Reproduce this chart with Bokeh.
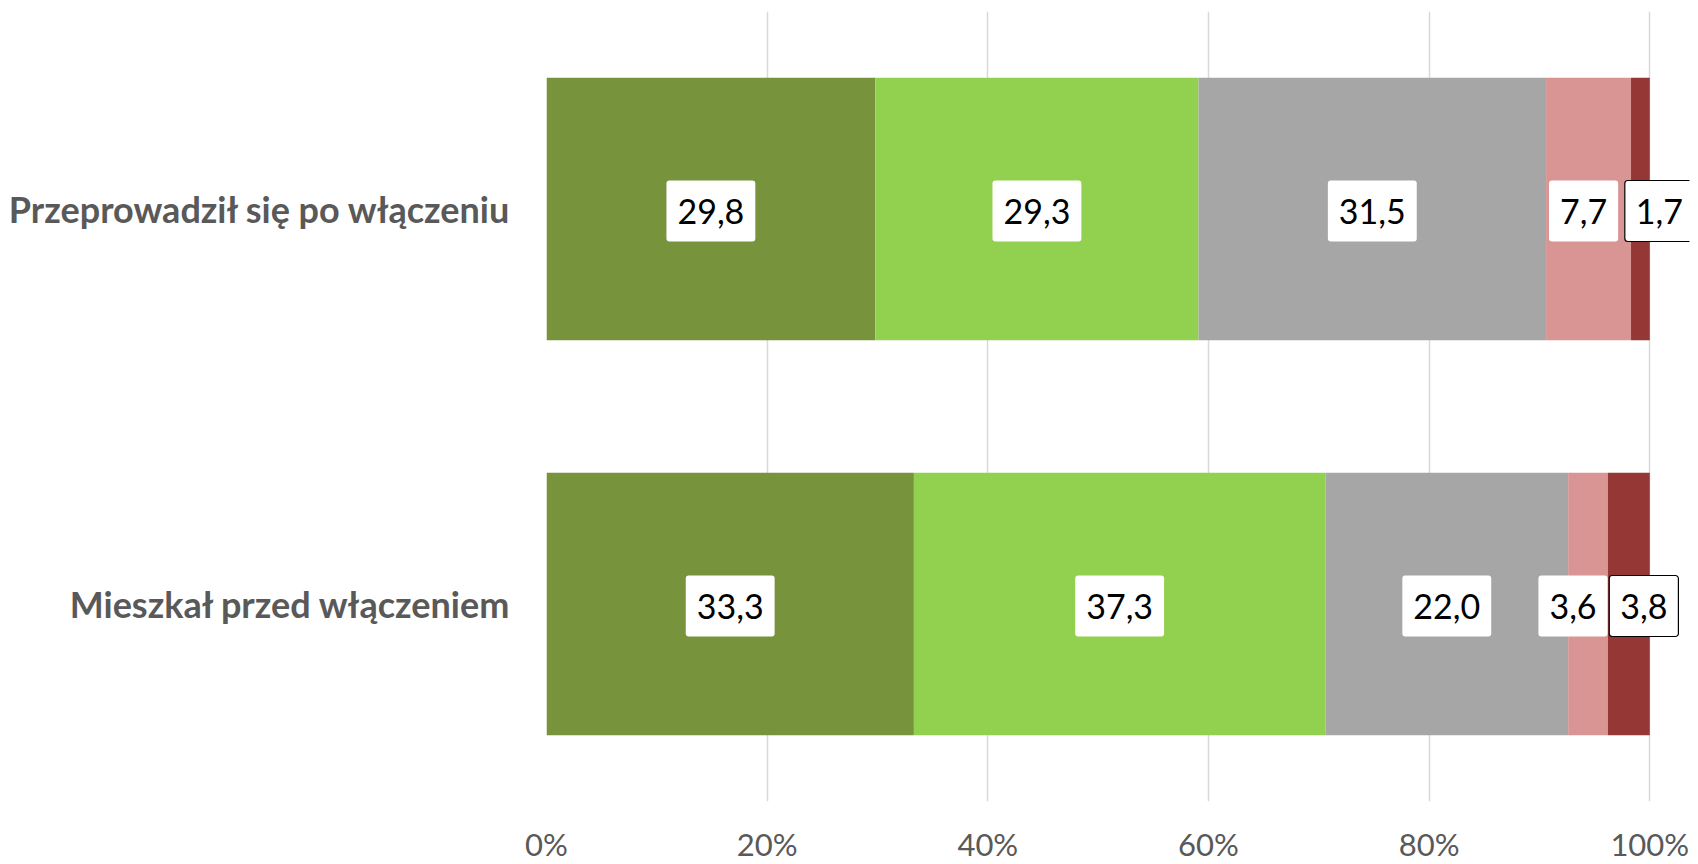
from bokeh.plotting import figure
from bokeh.models import ColumnDataSource, FactorRange, Range1d, Label, FixedTicker, CustomJSTickFormatter
from bokeh.embed import file_html
from bokeh.resources import INLINE

categories = ["Mieszkał przed włączeniem", "Przeprowadził się po włączeniu"]
series = ["s1", "s2", "s3", "s4", "s5"]
values = {
    "s1": [33.3, 29.8],
    "s2": [37.3, 29.3],
    "s3": [22.0, 31.5],
    "s4": [3.6, 7.7],
    "s5": [3.8, 1.7],
}
colors = ["#77933C", "#92D050", "#A6A6A6", "#D99594", "#953735"]
x_ticks = [0, 20, 40, 60, 80, 100]
# pixel nudges for crowded labels (style, not data)
label_nudge = {("s4", 0): -15, ("s5", 0): 15, ("s4", 1): -5, ("s5", 1): 19}
bordered = {"s5"}

FONT = "Lato"

p = figure(y_range=FactorRange(factors=categories), x_range=Range1d(0, 103.6),
           frame_width=1143, frame_height=790, output_backend="svg",
           toolbar_location=None, min_border_left=546, min_border_top=11,
           min_border_right=4, min_border_bottom=54)
p.outline_line_color = None
p.background_fill_color = "white"

data = {"cat": categories}
data.update(values)
src = ColumnDataSource(data)
p.hbar_stack(series, y="cat", height=0.665, color=colors, line_color=None, source=src)

# labels
for i, c in enumerate(categories):
    left = 0.0
    for s in series:
        v = values[s][i]
        lab = Label(x=left + v / 2, y=i + 0.5, x_offset=label_nudge.get((s, i), 0),
                    y_offset=-2,
                    text=f"{v:.1f}".replace(".", ","),
                    text_align="center", text_baseline="middle",
                    text_font=FONT, text_font_size="34px", text_color="black",
                    background_fill_color="white",
                    border_line_color="black" if s in bordered else None,
                    border_line_width=1.2, padding=(11, 18), border_radius=3)
        p.add_layout(lab)
        left += v

p.xaxis.ticker = FixedTicker(ticks=x_ticks)
p.xaxis.formatter = CustomJSTickFormatter(code="return tick + '%';")
p.xaxis.axis_line_color = None
p.xaxis.major_tick_line_color = None
p.xaxis.minor_tick_line_color = None
p.xaxis.major_label_standoff = 17
p.xaxis.major_label_text_font = FONT
p.xaxis.major_label_text_font_size = "31px"
p.xaxis.major_label_text_color = "#595959"

p.yaxis.axis_line_color = None
p.yaxis.major_tick_line_color = None
p.yaxis.minor_tick_line_color = None
p.yaxis.major_label_standoff = 29
p.yaxis.major_label_text_font = FONT
p.yaxis.major_label_text_font_style = "bold"
p.yaxis.major_label_text_font_size = "36px"
p.yaxis.major_label_text_color = "#595959"

p.ygrid.grid_line_color = None
p.xgrid.grid_line_color = "#D9D9D9"
p.xgrid.grid_line_width = 1.5

open("out.html", "w").write(file_html(p, INLINE))
